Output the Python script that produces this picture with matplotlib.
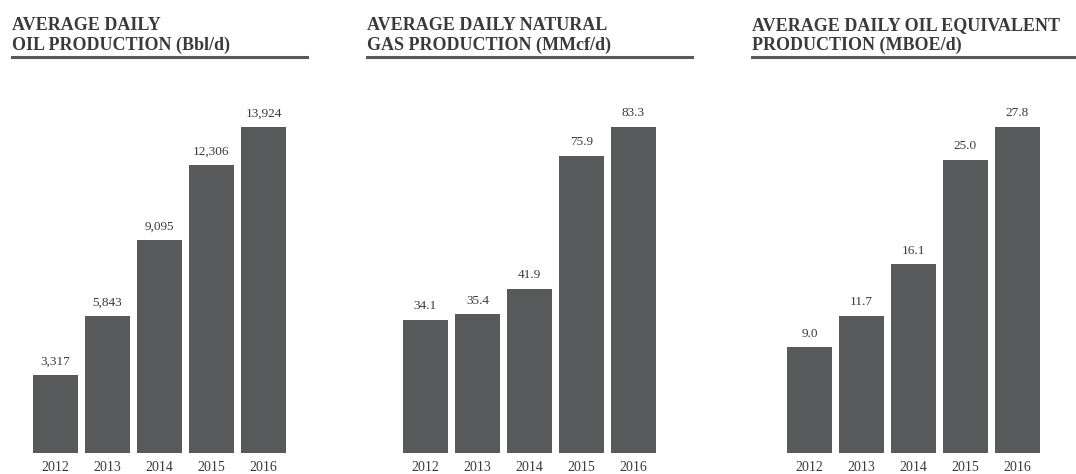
import matplotlib
matplotlib.use("Agg")
import matplotlib.pyplot as plt

years = ["2012", "2013", "2014", "2015", "2016"]
oil = [3317, 5843, 9095, 12306, 13924]
gas = [34.1, 35.4, 41.9, 75.9, 83.3]
boe = [9.0, 11.7, 16.1, 25.0, 27.8]
oil_labels = ["3,317", "5,843", "9,095", "12,306", "13,924"]
gas_labels = ["34.1", "35.4", "41.9", "75.9", "83.3"]
boe_labels = ["9.0", "11.7", "16.1", "25.0", "27.8"]
titles = ["AVERAGE DAILY\nOIL PRODUCTION (Bbl/d)",
          "AVERAGE DAILY NATURAL\nGAS PRODUCTION (MMcf/d)",
          "AVERAGE DAILY OIL EQUIVALENT\nPRODUCTION (MBOE/d)"]

W, H = 1076, 474
fig = plt.figure(figsize=(W / 100, H / 100), dpi=100)
serif = ["Liberation Serif", "DejaVu Serif"]
bar_color = "#58595b"
txt_color = "#3a3a3c"

panels = [
    (oil, oil_labels, titles[0], 12, 307, 33),
    (gas, gas_labels, titles[1], 367, 692, 403),
    (boe, boe_labels, titles[2], 752, 1076, 787),
]

step = 52.0
bw = 45.0
y_bottom = 453
y_top = 127
for vals, labs, title, tx0, tx1, bx0 in panels:
    # title
    l1, l2 = title.split("\n")
    fig.text(tx0 / W, 1 - 30 / H, l1, family=serif, weight="bold",
             fontsize=13, color=txt_color, va="baseline", ha="left")
    fig.text(tx0 / W, 1 - 50 / H, l2, family=serif, weight="bold",
             fontsize=13, color=txt_color, va="baseline", ha="left")
    fig.add_artist(plt.Line2D([tx0 / W, tx1 / W], [1 - 57 / H, 1 - 57 / H],
                              transform=fig.transFigure, color="#58595b", lw=2.2))
    # axes
    width_px = 4 * step + bw
    ax = fig.add_axes([bx0 / W, 1 - y_bottom / H, width_px / W, (y_bottom - y_top) / H])
    half = bw / step / 2
    ax.set_xlim(-half, 4 + half)
    ax.set_ylim(0, max(vals))
    ax.bar(range(5), vals, width=bw / step, color=bar_color, edgecolor="none")
    for i, (v, l) in enumerate(zip(vals, labs)):
        ax.annotate(l, (i, v), xytext=(0, 5.5), textcoords="offset points",
                    ha="center", va="bottom", family=serif, fontsize=9.5, color=txt_color)
    ax.set_xticks(range(5))
    ax.set_xticklabels(years, family=serif, fontsize=10, color=txt_color)
    ax.tick_params(axis="x", length=0, pad=6)
    ax.set_yticks([])
    for s in ax.spines.values():
        s.set_visible(False)
    ax.patch.set_alpha(0)

fig.savefig("out.png", dpi=100, facecolor="white")
